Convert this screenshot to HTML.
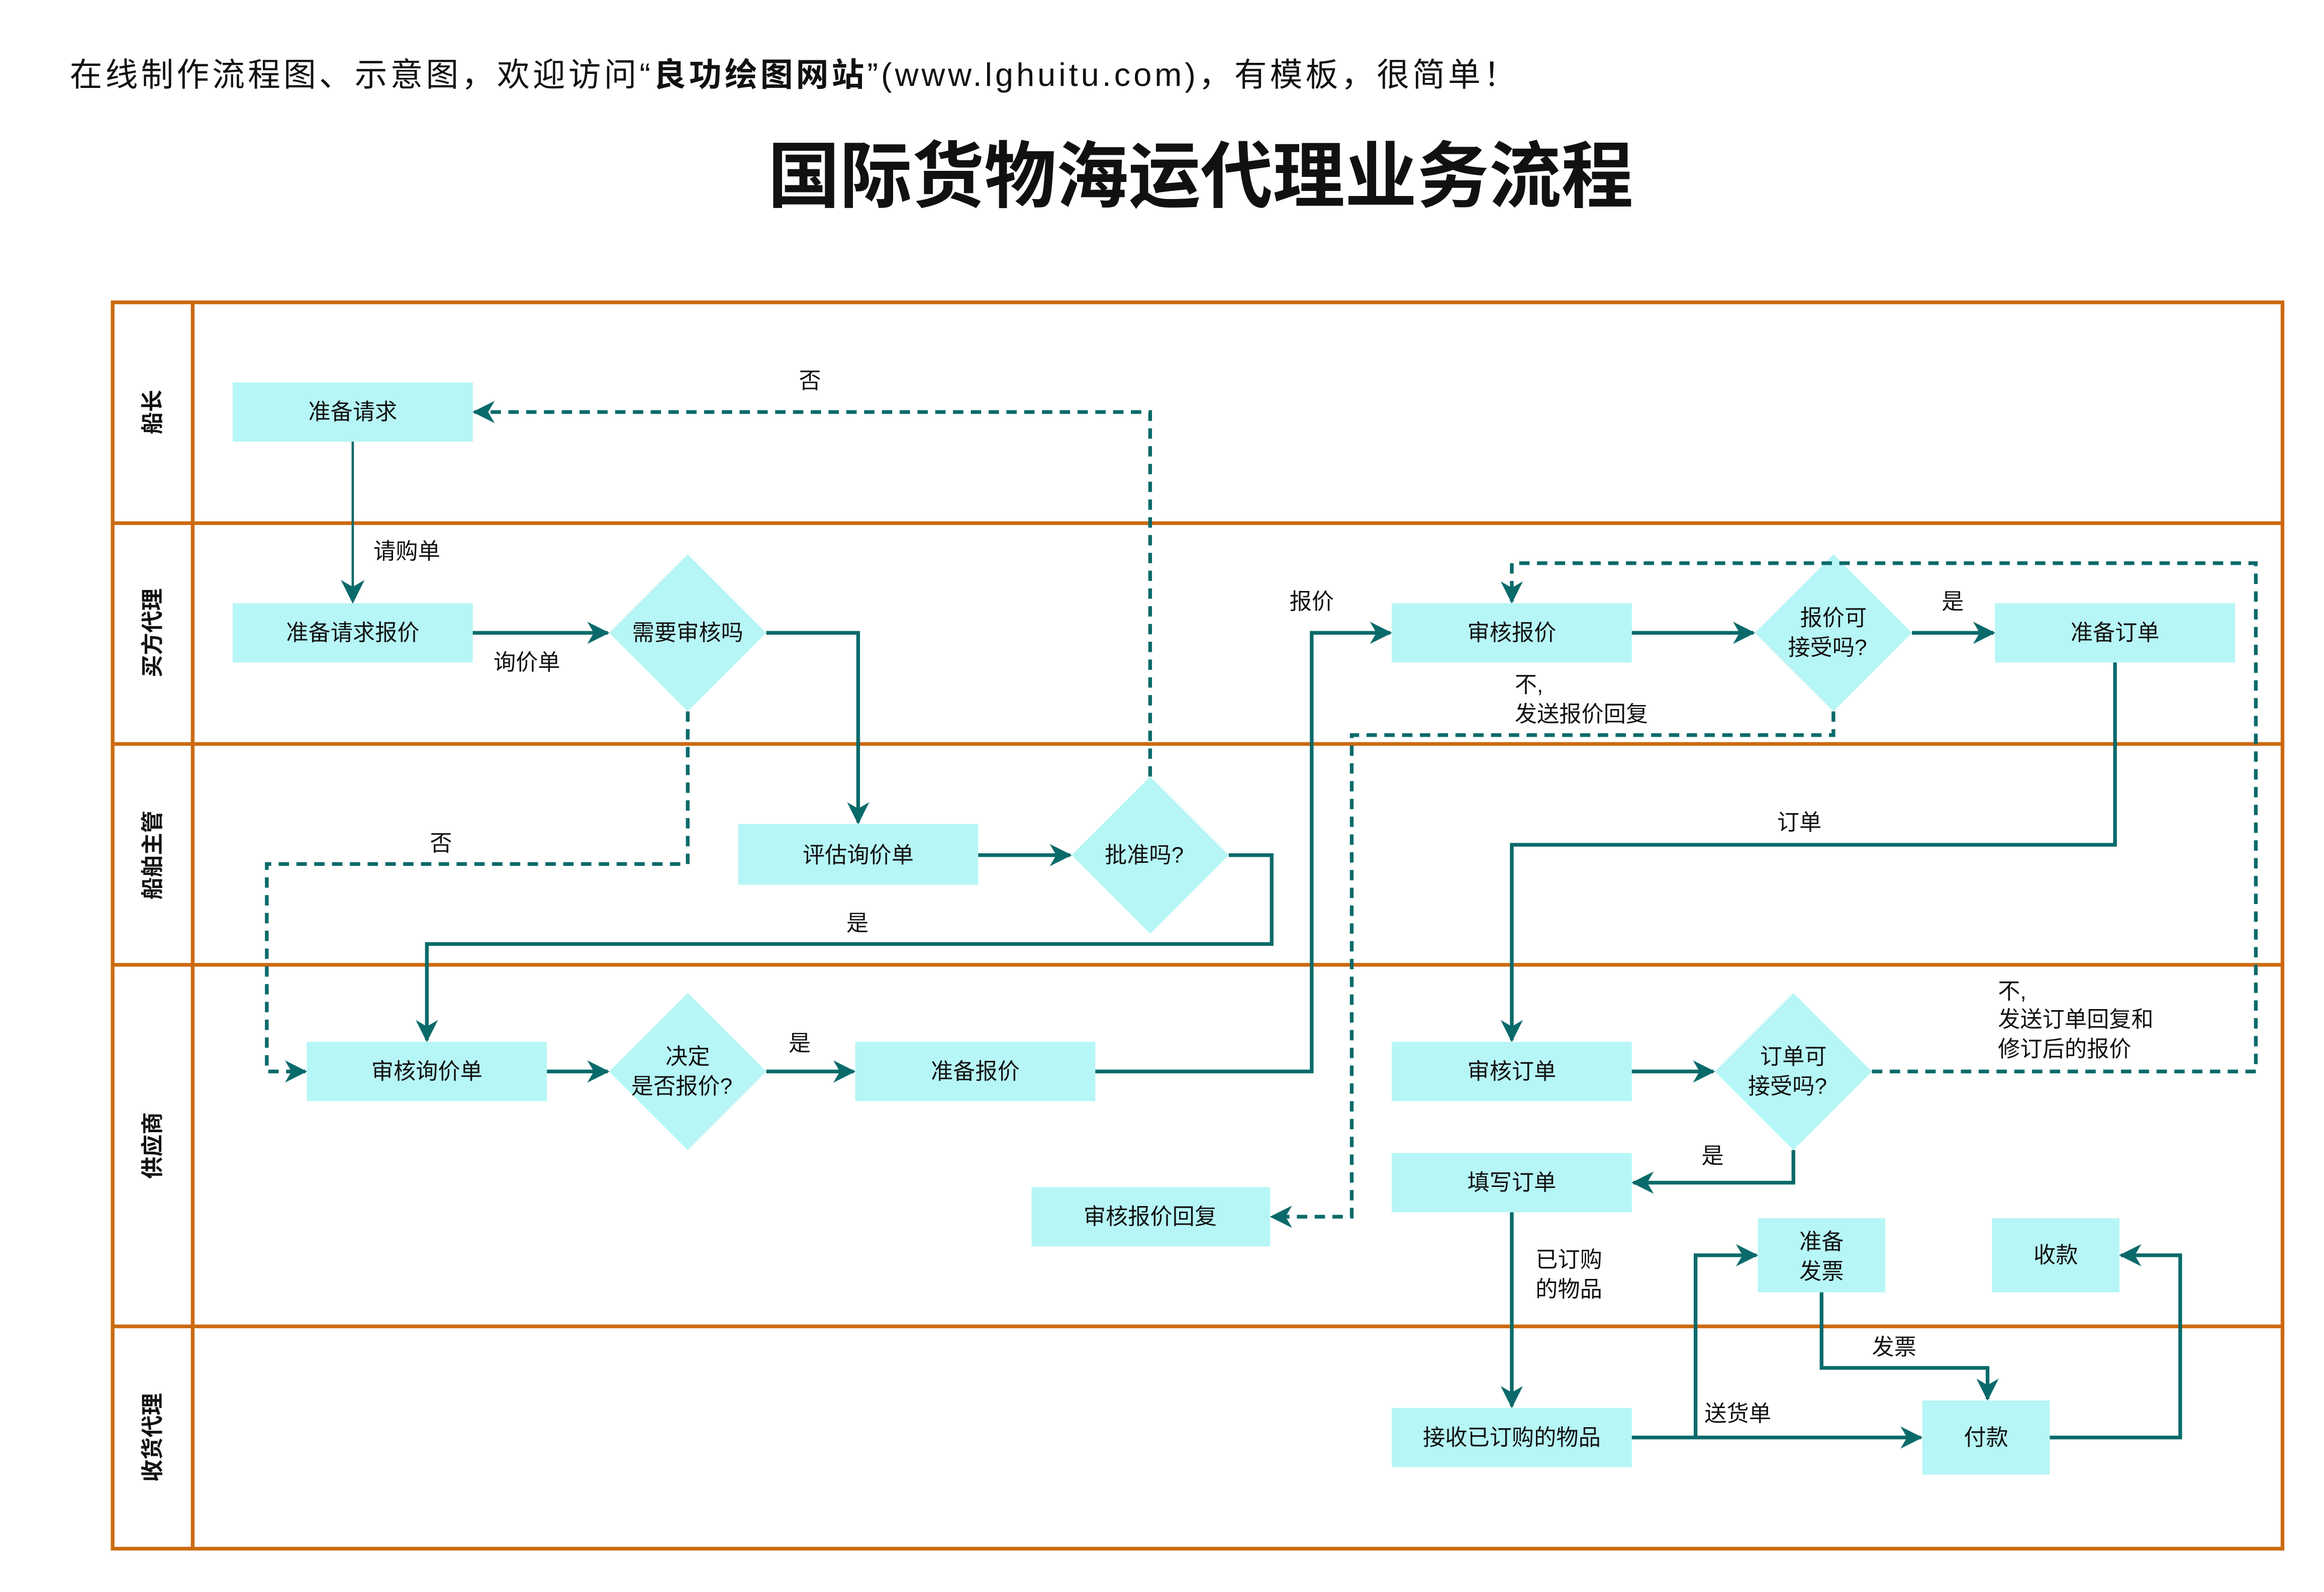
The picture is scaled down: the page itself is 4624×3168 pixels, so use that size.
<!DOCTYPE html>
<html><head><meta charset="utf-8"><style>
html,body{margin:0;padding:0;background:#fff;}
svg{display:block;}
text{font-family:"Liberation Sans","Noto Sans CJK SC",sans-serif;fill:#111;}
</style></head><body>
<svg width="4624" height="3168" viewBox="0 0 1568 1074.2" xmlns="http://www.w3.org/2000/svg">
<defs>
<marker id="a" viewBox="0 0 12 12" refX="11" refY="6" markerWidth="6" markerHeight="6" markerUnits="strokeWidth" orient="auto">
<path d="M0,0 L12,6 L0,12 L3.5,6 z" fill="#0a6a6a"/></marker>
<marker id="b" viewBox="0 0 12 12" refX="11" refY="6" markerWidth="10" markerHeight="10" markerUnits="strokeWidth" orient="auto">
<path d="M0,0 L12,6 L0,12 L3.5,6 z" fill="#0a6a6a"/></marker>
</defs>
<text x="47" y="58" font-size="22" textLength="976" lengthAdjust="spacing">在线制作流程图、示意图，欢迎访问“<tspan font-weight="bold">良功绘图网站</tspan>”(www.lghuitu.com)，有模板，很简单！</text>
<text x="518" y="136" font-size="49" font-weight="bold" textLength="584" lengthAdjust="spacingAndGlyphs">国际货物海运代理业务流程</text>

<g stroke="#cc6a10" stroke-width="2.5" fill="none">
<rect x="76" y="204" width="1464" height="841"/>
<line x1="130" y1="204" x2="130" y2="1045"/>
<line x1="76" y1="353" x2="1540" y2="353"/>
<line x1="76" y1="502" x2="1540" y2="502"/>
<line x1="76" y1="651" x2="1540" y2="651"/>
<line x1="76" y1="895" x2="1540" y2="895"/>
</g>
<g font-size="15" font-weight="bold" text-anchor="middle">
<text transform="translate(108,278) rotate(-90)">船长</text>
<text transform="translate(108,427) rotate(-90)">买方代理</text>
<text transform="translate(108,577) rotate(-90)">船舶主管</text>
<text transform="translate(108,773) rotate(-90)">供应商</text>
<text transform="translate(108,970) rotate(-90)">收货代理</text>
</g>

<g fill="#b7f6f6">
<rect x="157" y="258" width="162" height="40"/>
<rect x="157" y="407" width="162" height="40"/>
<rect x="498" y="556" width="162" height="41"/>
<rect x="207" y="703" width="162" height="40"/>
<rect x="577" y="703" width="162" height="40"/>
<rect x="939" y="407" width="162" height="40"/>
<rect x="1346" y="407" width="162" height="40"/>
<rect x="939" y="703" width="162" height="40"/>
<rect x="939" y="778" width="162" height="40"/>
<rect x="696" y="801" width="161" height="40"/>
<rect x="1186" y="822" width="86" height="50"/>
<rect x="1344" y="822" width="86" height="50"/>
<rect x="939" y="950" width="162" height="40"/>
<rect x="1297" y="945" width="86" height="50"/>
<polygon points="464,374 517,427 464,480 411,427"/>
<polygon points="776,524 829,577 776,630 723,577"/>
<polygon points="464,670 517,723 464,776 411,723"/>
<polygon points="1237,374 1290,427 1237,480 1184,427"/>
<polygon points="1210,670 1263,723 1210,776 1157,723"/>
</g>

<g font-size="15" text-anchor="middle">
<text x="238" y="283">准备请求</text>
<text x="238" y="432">准备请求报价</text>
<text x="464" y="432">需要审核吗</text>
<text x="579" y="582">评估询价单</text>
<text x="772" y="582">批准吗?</text>
<text x="288" y="728">审核询价单</text>
<text x="464" y="718">决定</text>
<text x="460" y="738">是否报价?</text>
<text x="658" y="728">准备报价</text>
<text x="1020" y="432">审核报价</text>
<text x="1237" y="422">报价可</text>
<text x="1233" y="442">接受吗?</text>
<text x="1427" y="432">准备订单</text>
<text x="1020" y="728">审核订单</text>
<text x="1210" y="718">订单可</text>
<text x="1206" y="738">接受吗?</text>
<text x="1020" y="803">填写订单</text>
<text x="776" y="826">审核报价回复</text>
<text x="1229" y="843">准备</text>
<text x="1229" y="863">发票</text>
<text x="1387" y="852">收款</text>
<text x="1020" y="975">接收已订购的物品</text>
<text x="1340" y="975">付款</text>
</g>

<g stroke="#0a6a6a" fill="none" stroke-width="2.5">
<path d="M238,298 V406" stroke-width="1.6" marker-end="url(#b)"/>
<path d="M319,427 H410" marker-end="url(#a)"/>
<path d="M517,427 H579 V555" marker-end="url(#a)"/>
<path d="M660,577 H722" marker-end="url(#a)"/>
<path d="M829,577 H858 V637 H288 V702" marker-end="url(#a)"/>
<path d="M369,723 H410" marker-end="url(#a)"/>
<path d="M517,723 H576" marker-end="url(#a)"/>
<path d="M739,723 H885 V427 H938" marker-end="url(#a)"/>
<path d="M1101,427 H1183" marker-end="url(#a)"/>
<path d="M1290,427 H1345" marker-end="url(#a)"/>
<path d="M1427,447 V570 H1020 V702" marker-end="url(#a)"/>
<path d="M1101,723 H1156" marker-end="url(#a)"/>
<path d="M1210,776 V798 H1102" marker-end="url(#a)"/>
<path d="M1020,818 V949" marker-end="url(#a)"/>
<path d="M1101,970 H1296" marker-end="url(#a)"/>
<path d="M1144,970 V847 H1185" marker-end="url(#a)"/>
<path d="M1229,872 V923 H1341 V944" marker-end="url(#a)"/>
<path d="M1383,970 H1471 V847 H1431" marker-end="url(#a)"/>
</g>
<g stroke="#0a6a6a" fill="none" stroke-width="2.5" stroke-dasharray="7,5">
<path d="M464,480 V583 H180 V723 H206" marker-end="url(#a)"/>
<path d="M776,524 V278 H320" marker-end="url(#a)"/>
<path d="M1237,480 V496 H912 V821 H858" marker-end="url(#a)"/>
<path d="M1263,723 H1522 V380 H1020 V406" marker-end="url(#a)"/>
</g>

<g font-size="15">
<text x="252" y="377">请购单</text>
<text x="333" y="452">询价单</text>
<text x="290" y="574">否</text>
<text x="539" y="262">否</text>
<text x="571" y="628">是</text>
<text x="532" y="709">是</text>
<text x="870" y="411">报价</text>
<text x="1310" y="411">是</text>
<text x="1022" y="467">不,</text>
<text x="1022" y="487">发送报价回复</text>
<text x="1199" y="560">订单</text>
<text x="1348" y="674">不,</text>
<text x="1348" y="693">发送订单回复和</text>
<text x="1348" y="713">修订后的报价</text>
<text x="1148" y="785">是</text>
<text x="1036" y="855">已订购</text>
<text x="1036" y="875">的物品</text>
<text x="1150" y="959">送货单</text>
<text x="1263" y="914">发票</text>
</g>
</svg>
</body></html>
